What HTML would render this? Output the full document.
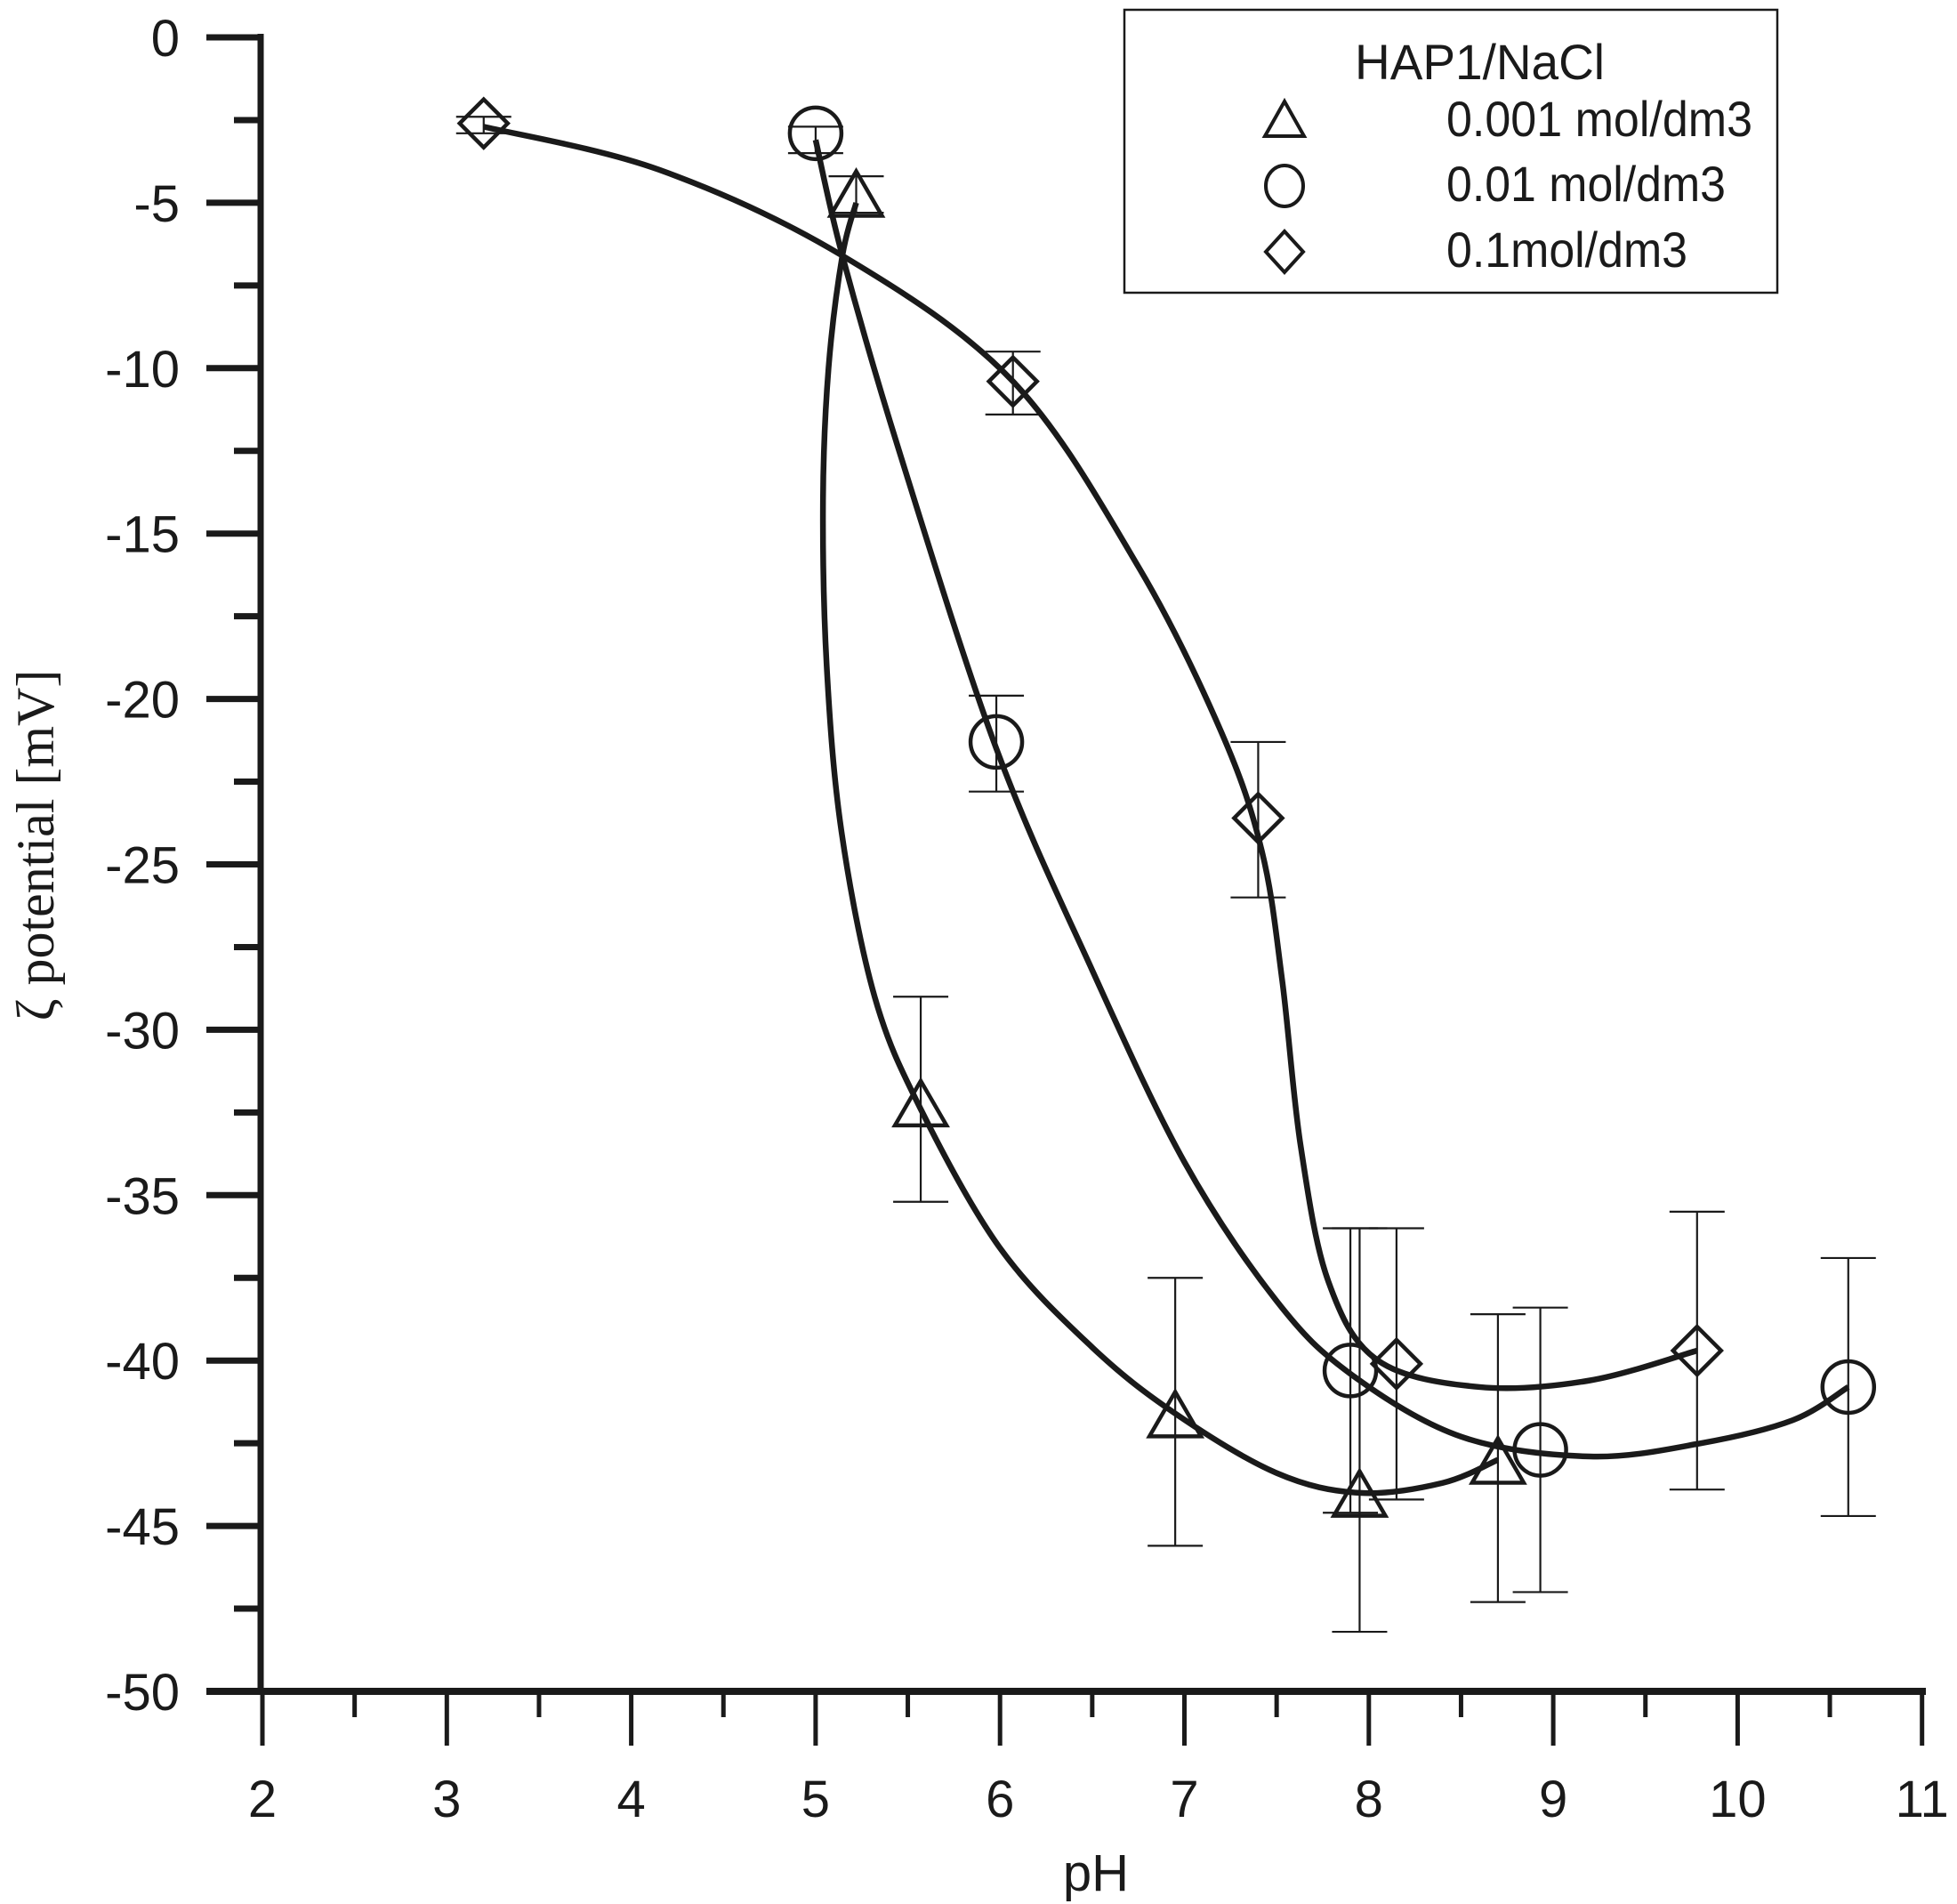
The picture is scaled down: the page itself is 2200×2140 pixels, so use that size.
<!DOCTYPE html>
<html><head><meta charset="utf-8"><style>
html,body{margin:0;padding:0;background:#fff;}
svg{display:block;}
text{fill:#1a1a1a;}
</style></head><body>
<svg id="s" width="2200" height="2140" viewBox="0 0 2200 2140" xmlns="http://www.w3.org/2000/svg">
<g id="axes" stroke="#1a1a1a" fill="none"></g>
<g id="lab" font-family="Liberation Sans, sans-serif" font-size="58"></g>
<text transform="translate(60,950) rotate(-90)" text-anchor="middle" font-family="Liberation Serif, serif" font-size="60">ζ potential  [mV]</text>
<text x="1232" y="2125" text-anchor="middle" font-family="Liberation Sans, sans-serif" font-size="58">pH</text>
<g id="err" stroke="#1a1a1a" stroke-width="2.2" fill="none"></g>
<g id="crv" stroke="#1a1a1a" stroke-width="6.5" fill="none" stroke-linecap="butt"></g>
<g id="mk" stroke="#1a1a1a" stroke-width="4.5" fill="none"></g>
<rect x="1264" y="11" width="734" height="318" fill="#fff" stroke="#1a1a1a" stroke-width="2.5"/>
<g font-family="Liberation Sans, sans-serif" font-size="56">
<text x="1523" y="89" textLength="281" lengthAdjust="spacingAndGlyphs">HAP1/NaCl</text>
<text x="1626" y="153" textLength="344" lengthAdjust="spacingAndGlyphs">0.001 mol/dm3</text>
<text x="1626" y="226" textLength="314" lengthAdjust="spacingAndGlyphs">0.01 mol/dm3</text>
<text x="1626" y="300" textLength="271" lengthAdjust="spacingAndGlyphs">0.1mol/dm3</text>
</g>
<g stroke="#1a1a1a" stroke-width="4" fill="none">
<polygon points="1444,114 1422,153 1466,153"/>
<ellipse cx="1444" cy="209" rx="21" ry="23"/>
<polygon points="1444,260 1465,283 1444,306 1423,283"/>
</g>
</svg>
<script>
var NS="http://www.w3.org/2000/svg";
function X(p){return 295+207.3*(p-2);}
function Y(v){return 42-37.18*v;}
function el(g,t,a){var e=document.createElementNS(NS,t);for(var k in a)e.setAttribute(k,a[k]);document.getElementById(g).appendChild(e);return e;}
el('axes','line',{x1:293,y1:38,x2:293,y2:1905,'stroke-width':7});
el('axes','line',{x1:232,y1:1901,x2:2165,y2:1901,'stroke-width':8});
for(var i=0;i<=20;i++){var y=Y(-2.5*i);var maj=i%2==0;
 el('axes','line',{x1:maj?232:263,y1:y,x2:293,y2:y,'stroke-width':7});
 if(maj){var t=el('lab','text',{x:202,y:y+21,'text-anchor':'end'});t.textContent=(i==0?'0':'-'+(2.5*i));}}
for(var i=0;i<=18;i++){var x=X(2+0.5*i);var maj=i%2==0;
 el('axes','line',{x1:x,y1:1901,x2:x,y2:maj?1962:1930,'stroke-width':5});
 if(maj){var t=el('lab','text',{x:x,y:2042,'text-anchor':'middle'});t.textContent=(2+i/2);}}
function eb(p,a,b){var x=X(p);el('err','line',{x1:x,y1:Y(a),x2:x,y2:Y(b)});
 el('err','line',{x1:x-31,y1:Y(a),x2:x+31,y2:Y(a)});el('err','line',{x1:x-31,y1:Y(b),x2:x+31,y2:Y(b)});}
function cr(pts){var P=pts.map(function(q){return[X(q[0]),Y(q[1])];});var d='M'+P[0][0]+','+P[0][1];
 for(var i=0;i<P.length-1;i++){var p0=P[i-1]||P[i],p1=P[i],p2=P[i+1],p3=P[i+2]||P[i+1];
  d+=' C'+(p1[0]+(p2[0]-p0[0])/6)+','+(p1[1]+(p2[1]-p0[1])/6)+' '+(p2[0]-(p3[0]-p1[0])/6)+','+(p2[1]-(p3[1]-p1[1])/6)+' '+p2[0]+','+p2[1];}
 el('crv','path',{d:d});}
cr([[5.22,-5.0],[5.145,-6.6],[5.07,-10],[5.04,-14],[5.06,-19],[5.14,-24],[5.32,-29],[5.57,-32.4],[6.0,-36.6],[6.5,-39.6],[6.95,-41.6],[7.5,-43.4],[7.95,-44.0],[8.4,-43.7],[8.7,-43.0]]);
cr([[5.0,-3.1],[5.145,-6.6],[5.45,-12.45],[5.98,-21.5],[6.5,-28.2],[7.0,-34],[7.5,-38.2],[7.9,-40.4],[8.5,-42.3],[9.2,-42.9],[9.8,-42.5],[10.3,-41.8],[10.6,-40.8]]);
cr([[3.2,-2.7],[4.15,-4.0],[5.145,-6.6],[6.07,-10.4],[6.75,-16.0],[7.2,-21.0],[7.42,-24.6],[7.53,-28.5],[7.63,-33.5],[7.78,-37.6],[8.05,-40.0],[8.6,-40.8],[9.2,-40.6],[9.78,-39.7]]);
eb(5.22,-4.2,-5.3);eb(5.57,-29,-35.2);eb(6.95,-37.5,-45.6);eb(7.95,-36,-48.2);eb(8.7,-38.6,-47.3);
eb(5.0,-2.7,-3.5);eb(5.98,-19.9,-22.8);eb(7.9,-36,-44.6);eb(8.93,-38.4,-47.0);eb(10.6,-36.9,-44.7);
eb(3.2,-2.4,-2.9);eb(6.07,-9.5,-11.4);eb(7.4,-21.3,-26.0);eb(8.15,-36,-44.2);eb(9.78,-35.5,-43.9);
[[5.22,-4.8],[5.57,-32.3],[6.95,-41.7],[7.95,-44.1],[8.7,-43.1]].forEach(function(q){var x=X(q[0]),y=Y(q[1]);
 el('mk','polygon',{points:(x)+','+(y-28)+' '+(x-29)+','+(y+22)+' '+(x+29)+','+(y+22)});});
[[5.0,-2.9],[5.98,-21.3],[7.9,-40.3],[8.93,-42.7],[10.6,-40.8]].forEach(function(q){
 el('mk','circle',{cx:X(q[0]),cy:Y(q[1]),r:29});});
[[3.2,-2.6],[6.07,-10.4],[7.4,-23.6],[8.15,-40.1],[9.78,-39.7]].forEach(function(q){var x=X(q[0]),y=Y(q[1]);
 el('mk','polygon',{points:x+','+(y-27)+' '+(x+27)+','+y+' '+x+','+(y+27)+' '+(x-27)+','+y});});
</script>
</body></html>
